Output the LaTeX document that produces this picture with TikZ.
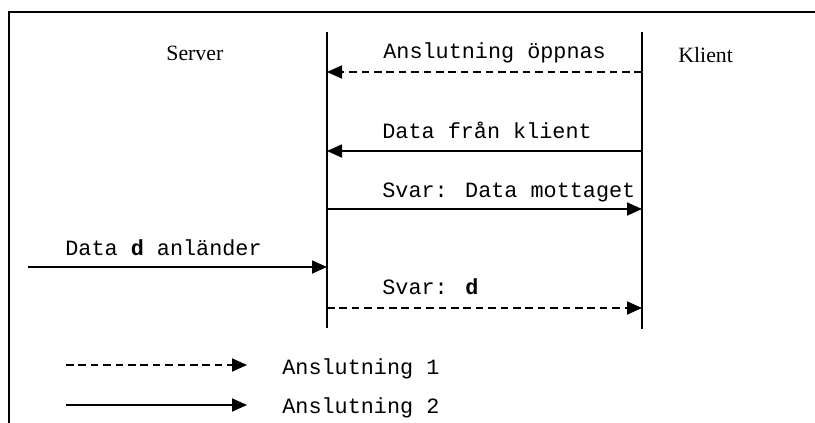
\documentclass[tikz,border=0pt]{standalone}
\usepackage{fontspec}
\setmainfont{Liberation Serif}
\newfontfamily\monofont{Liberation Mono}
\usetikzlibrary{arrows.meta}

\begin{document}
\begin{tikzpicture}[x=0.5pt,y=-0.5pt,
  lifeline/.style={line width=1pt},
  frameline/.style={line width=1.1pt},
  msg/.style={line width=0.9pt,-{Triangle[length=7.5pt,width=6.5pt]}},
  dashmsg/.style={msg,dash pattern=on 3.8pt off 2.4pt},
  party/.style={inner sep=0pt,anchor=base west,font=\fontsize{10.9}{13}\selectfont},
  lbl/.style={inner sep=0pt,anchor=base west,font=\fontsize{10.9}{13}\selectfont\monofont}]
\useasboundingbox (0,0) rectangle (815,423);

% open frame
\draw[frameline] (9,423) -- (9,12) -- (815,12);

% parties
\node[party] (srv) at (166,61) {Server};
\node[party] (kli) at (678,62) {Klient};

% lifelines
\coordinate (s0) at (327,32);
\coordinate (s1) at (327,328);
\coordinate (c0) at (642,32);
\coordinate (c1) at (642,329);
\draw[lifeline] (s0) -- (s1);
\draw[lifeline] (c0) -- (c1);

% message anchors on the lifelines
\coordinate (sA) at (327,72);  \coordinate (cA) at (642,72);
\coordinate (sB) at (327,151); \coordinate (cB) at (642,151);
\coordinate (sC) at (327,209); \coordinate (cC) at (642,209);
\coordinate (sD) at (327,267); \coordinate (ext) at (28,267);
\coordinate (sE) at (327,308); \coordinate (cE) at (642,308);

% messages
\draw[dashmsg] (cA) -- (sA);
\node[lbl] (tA) at (383,58) {Anslutning öppnas};
\draw[msg] (cB) -- (sB);
\node[lbl] (tB) at (382,138) {Data från klient};
\draw[msg] (sC) -- (cC);
\node[lbl] (tC) at (382,197) {Svar: Data mottaget};
\draw[msg] (ext) -- (sD);
\node[lbl] (tD) at (65,255) {Data {\bfseries d} anländer};
\draw[dashmsg] (sE) -- (cE);
\node[lbl] (tE) at (382,294) {Svar: {\bfseries d}};

% legend
\coordinate (l1a) at (66,365); \coordinate (l1b) at (247,365);
\coordinate (l2a) at (66,405); \coordinate (l2b) at (247,405);
\draw[dashmsg] (l1a) -- (l1b);
\node[lbl] (k1) at (282,374) {Anslutning 1};
\draw[msg] (l2a) -- (l2b);
\node[lbl] (k2) at (282,413) {Anslutning 2};
\end{tikzpicture}
\end{document}
